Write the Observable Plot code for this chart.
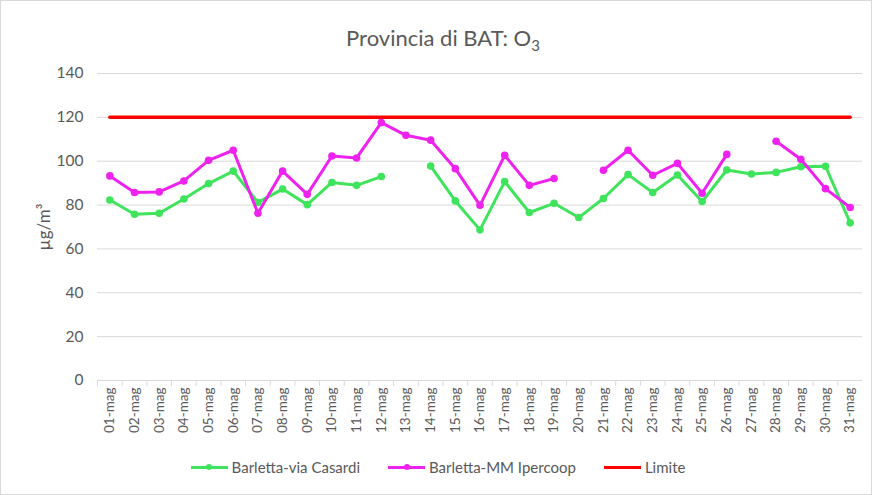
<!DOCTYPE html>
<html>
<head>
<meta charset="utf-8">
<script src="https://cdn.jsdelivr.net/npm/d3@7"></script>
<script src="https://cdn.jsdelivr.net/npm/@observablehq/plot@0.6"></script>
<style>
  body { margin: 0; background: #fff; }
  #wrap { position: relative; width: 870px; height: 493px; border: 1px solid #d9d9d9; font-family: Lato, "Open Sans", sans-serif; color: #595959; background:#fff; }
  #title { height: 30px; padding-top: 24px; padding-left: 14px; text-align: center; font-size: 22px; line-height: 26px; box-sizing: content-box; }
  #title sub { font-size: 15px; vertical-align: -5px; line-height: 0; }
  #chart svg { display: block; }
  #legend { height: 26px; display: flex; justify-content: center; align-items: center; gap: 28px; font-size: 15px; color: #595959; padding-left: 4px; }
  .item { display: flex; align-items: center; gap: 4px; }
  .sw { position: relative; width: 37px; height: 10px; }
  .sw .ln { position: absolute; left: 0; right: 0; top: 3.5px; height: 3px; }
  .sw .dt { position: absolute; left: 15.5px; top: 2px; width: 6px; height: 6px; border-radius: 50%; }
</style>
</head>
<body>
<div id="wrap">
  <div id="title">Provincia di BAT: O<sub>3</sub></div>
  <div id="chart"></div>
  <div id="legend"></div>
</div>
<script>
const days = ["01-mag","02-mag","03-mag","04-mag","05-mag","06-mag","07-mag","08-mag","09-mag","10-mag","11-mag","12-mag","13-mag","14-mag","15-mag","16-mag","17-mag","18-mag","19-mag","20-mag","21-mag","22-mag","23-mag","24-mag","25-mag","26-mag","27-mag","28-mag","29-mag","30-mag","31-mag"];
const casardi = [82.3,75.8,76.3,82.8,89.8,95.5,81.2,87.3,80.2,90.3,89.0,93.0,null,97.8,81.9,68.7,90.7,76.6,80.8,74.3,83.0,93.9,85.7,93.7,81.6,96.0,94.2,94.9,97.5,97.7,71.9];
const ipercoop = [93.3,85.7,86.0,91.0,100.4,105.0,76.3,95.5,84.9,102.4,101.5,117.6,111.8,109.6,96.6,79.9,102.7,89.0,92.1,null,95.9,105.0,93.6,99.0,85.4,103.1,null,109.1,100.9,87.5,78.9];
const limite = days.map(() => 120);
const yTicks = [0,20,40,60,80,100,120,140];
const seriesNames = ["Barletta-via Casardi","Barletta-MM Ipercoop","Limite"];
const colors = ["#3fe35c","#ee22ee","#ff0000"];

const toRows = (vals) => days.map((d, i) => ({day: d, v: vals[i]}));
const rowsC = toRows(casardi), rowsI = toRows(ipercoop), rowsL = toRows(limite);

const W = 870, ML = 96, MR = 9;
const bw = (W - ML - MR) / days.length;

const chart = Plot.plot({
  width: W,
  height: 399,
  marginLeft: ML,
  marginRight: MR,
  marginTop: 18,
  marginBottom: 74,
  style: {fontFamily: "Lato, 'Open Sans', sans-serif", color: "#595959", background: "#fff"},
  x: {type: "band", domain: days, padding: 0, round: false, label: null},
  y: {domain: [0, 140], label: null},
  marks: [
    Plot.gridY(yTicks, {stroke: "#d9d9d9", strokeOpacity: 1, strokeWidth: 1}),
    Plot.ruleY([0], {stroke: "#d9d9d9", strokeWidth: 1}),
    Plot.axisY(yTicks, {tickSize: 0, tickPadding: 14, fontSize: 15.5, label: null, fill: "#595959"}),
    Plot.axisX({tickSize: 6, text: null, dx: -bw / 2, stroke: "#d9d9d9", label: null}),
    Plot.axisX({tickSize: 0, tickPadding: 7, tickRotate: -90, fontSize: 13.5, label: null, fill: "#595959"}),
    Plot.text(["µg/m³"], {frameAnchor: "left", textAnchor: "middle", rotate: -90, dx: -53, fontSize: 17, fill: "#595959"}),
    Plot.line(rowsL, {x: "day", y: "v", stroke: colors[2], strokeWidth: 3.5}),
    Plot.line(rowsC, {x: "day", y: "v", stroke: colors[0], strokeWidth: 3}),
    Plot.dot(rowsC, {x: "day", y: "v", fill: colors[0], r: 3.8}),
    Plot.line(rowsI, {x: "day", y: "v", stroke: colors[1], strokeWidth: 3}),
    Plot.dot(rowsI, {x: "day", y: "v", fill: colors[1], r: 3.8})
  ]
});
document.getElementById("chart").appendChild(chart);

const legend = document.getElementById("legend");
seriesNames.forEach((name, i) => {
  const item = document.createElement("div");
  item.className = "item";
  const sw = document.createElement("div");
  sw.className = "sw";
  const ln = document.createElement("div");
  ln.className = "ln";
  ln.style.background = colors[i];
  sw.appendChild(ln);
  if (i < 2) {
    const dt = document.createElement("div");
    dt.className = "dt";
    dt.style.background = colors[i];
    sw.appendChild(dt);
  }
  item.appendChild(sw);
  const t = document.createElement("span");
  t.textContent = name;
  item.appendChild(t);
  legend.appendChild(item);
});
</script>
</body>
</html>
